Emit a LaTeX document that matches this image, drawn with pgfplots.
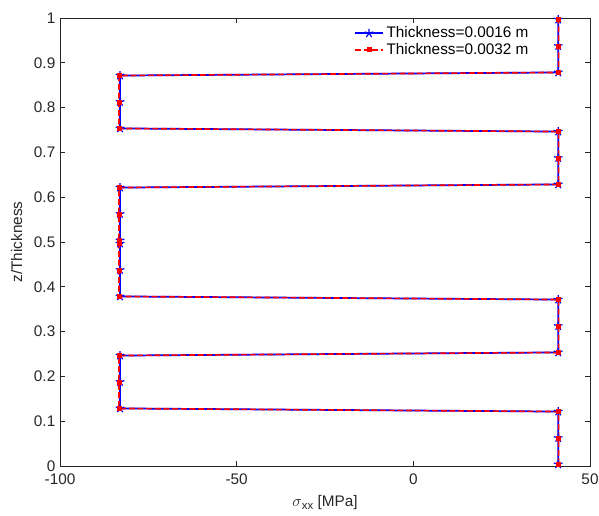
\documentclass[border=0pt]{standalone}
\usepackage{fontspec}
\setmainfont{Liberation Sans}
\usepackage{pgfplots}
\pgfplotsset{compat=1.18}
\definecolor{axgray}{rgb}{0.15,0.15,0.15}
\pgfplotstableread{
x z
41 0.0035
41 0.0625
41 0.1215
-83 0.1285
-83 0.1875
-83 0.2465
41 0.2535
41 0.3125
41 0.3715
-83 0.3785
-83 0.4375
-83 0.4965
-83 0.5035
-83 0.5625
-83 0.6215
41 0.6285
41 0.6875
41 0.7465
-83 0.7535
-83 0.8125
-83 0.8715
41 0.8785
41 0.9375
41 0.9965
}\thinA
\pgfplotstableread{
x z
41.1 0.0035
41.1 0.0625
41.1 0.1215
-83.3 0.1285
-83.3 0.1875
-83.3 0.2465
41.1 0.2535
41.1 0.3125
41.1 0.3715
-83.3 0.3785
-83.3 0.4375
-83.3 0.4965
-83.3 0.5035
-83.3 0.5625
-83.3 0.6215
41.1 0.6285
41.1 0.6875
41.1 0.7465
-83.3 0.7535
-83.3 0.8125
-83.3 0.8715
41.1 0.8785
41.1 0.9375
41.1 0.9965
}\thinB
\begin{document}
\begin{tikzpicture}
\path[use as bounding box] (-45pt,-37.5pt) rectangle (404.25pt,349.5pt);
\begin{axis}[
  scale only axis, width=397.5pt, height=336pt,
  xmin=-100, xmax=50, ymin=0, ymax=1,
  xtick={-100,-50,0,50},
  ytick={0,0.1,0.2,0.3,0.4,0.5,0.6,0.7,0.8,0.9,1},
  axis line style={draw=axgray, line width=0.5pt},
  tick style={draw=axgray, line width=0.5pt},
  major tick length=3.75pt,
  tick align=inside,
  /pgf/number format/assume math mode=true,
  ticklabel style={font=\fontsize{11.5}{13}\selectfont, text=axgray},
  xticklabel style={yshift=-2.5pt},
  label style={font=\fontsize{11.5}{13}\selectfont, text=axgray},
  xlabel={$\sigma$\raisebox{-0.35ex}{\fontsize{8.5}{9}\selectfont xx} [MPa]},
  ylabel={z/Thickness},
  xlabel style={yshift=-1pt},
  ylabel style={yshift=2pt},
  legend style={at={(0.892,0.99)}, anchor=north east, draw=none, fill=none,
    font=\fontsize{11.5}{13}\selectfont, row sep=-1.5pt, inner sep=1pt},
  legend cell align=left,
  legend image code/.code={\draw[mark repeat=2,mark phase=2,#1] plot coordinates {(0cm,0cm) (0.37cm,0cm) (0.74cm,0cm)};},
]
\addplot[blue, line width=1.3pt, mark=star, mark size=3.4pt, mark options={solid, line width=0.9pt}] table[x=x,y=z] {\thinA};
\addlegendentry{Thickness=0.0016 m}
\addplot[red, line width=1.2pt, dash pattern=on 4.5pt off 2pt, mark=square*, mark size=1.5pt, mark options={solid, fill=red, line width=0.6pt}] table[x=x,y=z] {\thinB};
\addlegendentry{Thickness=0.0032 m}
\end{axis}
\end{tikzpicture}
\end{document}
